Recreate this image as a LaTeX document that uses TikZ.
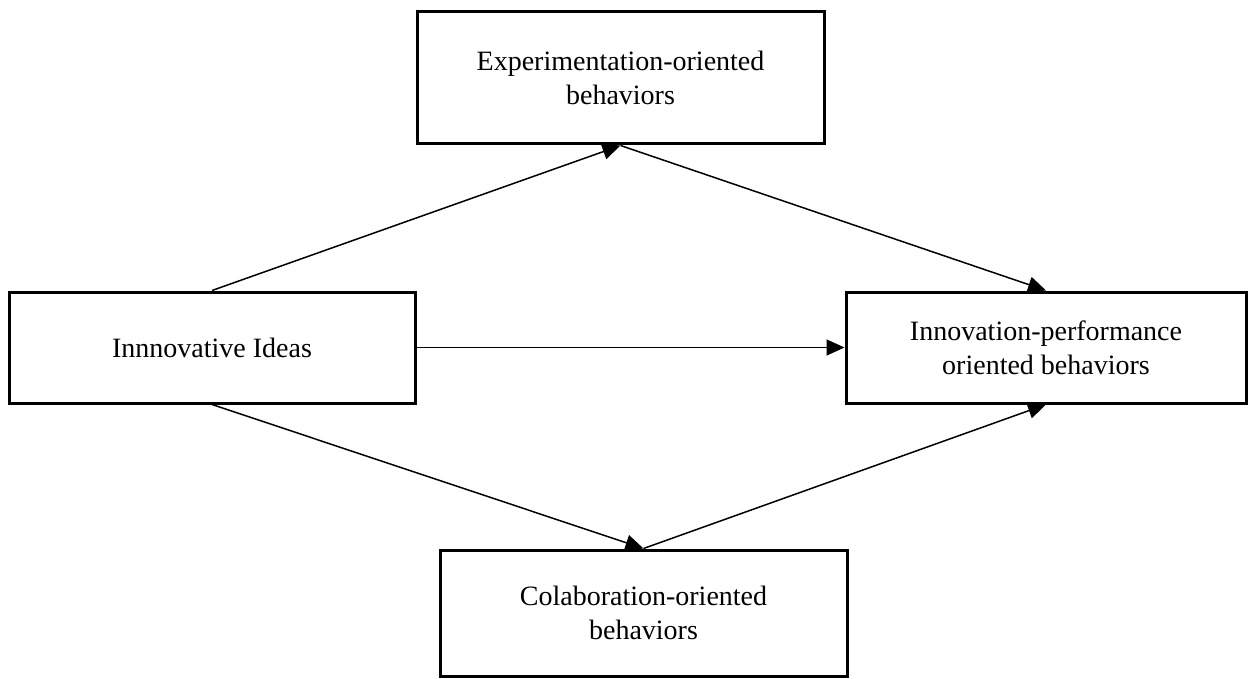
\documentclass[tikz,border=0pt]{standalone}
\usepackage{fontspec}
\setmainfont{Liberation Serif}
\usetikzlibrary{arrows.meta}
\begin{document}
\begin{tikzpicture}[x=1pt,y=-1pt,
  box/.style={draw, line width=3pt, rectangle, align=center, inner sep=0pt,
    font=\fontsize{28}{34}\selectfont},
  conn/.style={line width=1.5pt, -{Triangle[length=18pt,width=16pt]}}]
\useasboundingbox (0,0) rectangle (1252,679);
\node[box, minimum width=407pt, minimum height=132pt] (top) at (620.5,78) {Experimentation-oriented\\behaviors};
\node[box, minimum width=406pt, minimum height=111pt] (left) at (212,347.5) {Innnovative Ideas};
\node[box, minimum width=400pt, minimum height=111pt] (right) at (1046,347.5) {Innovation-performance\\oriented behaviors};
\node[box, minimum width=407pt, minimum height=126pt] (bottom) at (643.5,613) {Colaboration-oriented\\behaviors};
\draw[conn] (left.north) -- (top.south);
\draw[conn] (top.south) -- (right.north);
\draw[conn] (left.east) -- (right.west);
\draw[conn] (left.south) -- (bottom.north);
\draw[conn] (bottom.north) -- (right.south);
\end{tikzpicture}
\end{document}
